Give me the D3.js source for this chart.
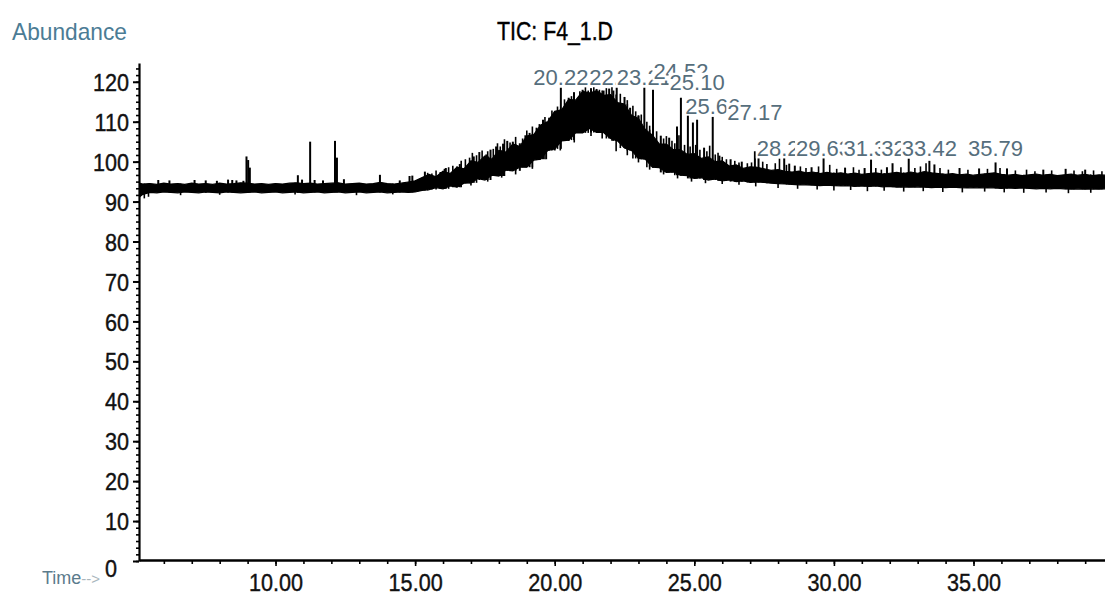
<!DOCTYPE html>
<html><head><meta charset="utf-8">
<script src="https://cdn.jsdelivr.net/npm/d3@7"></script>
<style>html,body{margin:0;padding:0;background:#fff;} svg{display:block;}</style>
</head><body><svg id="c" width="1105" height="595"></svg>
<script>
// ---- data ----
const bandTimes = [5.1,
 5.25,5.5,5.75,6,6.25,6.5,6.75,7,
 7.25,7.5,7.75,8,8.25,8.5,8.75,9,
 9.25,9.5,9.75,10,10.25,10.5,10.75,11,
 11.25,11.5,11.75,12,12.25,12.5,12.75,13,
 13.25,13.5,13.75,14,14.25,14.5,14.75,15,
 15.25,15.5,15.75,16,16.25,16.5,16.75,17,
 17.25,17.5,17.75,18,18.25,18.5,18.75,19,
 19.25,19.5,19.75,20,20.25,20.5,20.75,21,
 21.25,21.5,21.75,22,22.25,22.5,22.75,23,
 23.25,23.5,23.75,24,24.25,24.5,24.75,25,
 25.25,25.5,25.75,26,26.25,26.5,26.75,27,
 27.25,27.5,27.75,28,28.25,28.5,28.75,29,
 29.25,29.5,29.75,30,30.25,30.5,30.75,31,
 31.25,31.5,31.75,32,32.25,32.5,32.75,33,
 33.25,33.5,33.75,34,34.25,34.5,34.75,35,
 35.25,35.5,35.75,36,36.25,36.5,36.75,37,
 37.25,37.5,37.75,38,38.25,38.5,38.75,39,
 39.25,39.5,39.75];
const bandLow = [91.0,
 91.8,92.3,92.2,92.4,92.3,92.2,92.4,92.3,
 92.2,92.4,92.3,92.2,92.4,92.3,92.2,92.3,
 92.4,92.2,92.3,92.4,92.2,92.3,92.4,92.2,
 92.3,92.4,92.2,92.3,92.4,92.2,92.3,92.4,
 92.2,92.3,92.4,92.2,92.3,92.4,92.3,92.4,
 92.8,93.0,93.5,93.2,93.9,93.6,94.6,94.7,
 95.8,95.4,96.6,96.4,97.9,97.7,98.6,98.6,
 100.4,100.6,102.8,103.2,105.2,105.4,107.2,107.2,
 108.3,107.3,107.3,105.8,105.2,103.4,102.8,100.8,
 100.6,98.6,98.5,97.3,97.4,96.6,96.5,95.8,
 96.0,95.4,95.7,95.2,95.4,95.0,95.2,94.8,
 94.9,94.8,94.6,94.5,94.4,94.3,94.2,94.2,
 94.1,94.0,94.1,94.0,93.9,94.0,93.8,93.9,
 93.8,93.9,93.7,93.8,93.6,93.7,93.6,93.7,
 93.6,93.5,93.6,93.5,93.6,93.5,93.4,93.5,
 93.4,93.5,93.4,93.3,93.4,93.3,93.4,93.3,
 93.2,93.3,93.2,93.3,93.2,93.1,93.2,93.1,
 93.2,93.1,93.2];
const bandHigh = [94.6,
 94.4,94.5,94.3,94.6,94.4,94.5,94.3,94.6,
 94.4,94.5,94.3,94.6,94.4,94.5,94.7,94.6,
 94.4,94.5,94.3,94.5,94.4,94.6,94.7,94.5,
 94.6,94.4,94.5,94.6,94.7,94.4,94.5,94.6,
 94.4,94.5,94.8,94.5,94.4,94.6,94.9,95.2,
 96.0,96.8,96.2,97.6,97.0,98.6,98.2,100.2,
 99.8,101.4,100.6,102.8,102.4,104.4,103.8,106.4,
 106.8,109.2,110.0,112.6,113.0,115.6,115.4,117.6,
 117.2,117.8,116.6,116.8,114.8,114.4,111.6,110.8,
 108.0,106.6,104.4,104.4,103.0,103.0,101.8,102.0,
 100.8,101.2,100.0,100.2,98.9,99.2,98.3,98.7,
 98.6,98.2,97.8,98.0,97.6,97.4,97.6,97.2,
 97.4,97.0,97.3,97.0,97.2,96.9,97.1,96.8,
 97.0,97.2,96.9,97.1,97.3,97.0,97.4,97.1,
 97.5,97.2,97.0,96.8,97.0,96.7,96.9,96.6,
 96.8,97.0,97.2,96.8,96.6,96.8,96.5,96.7,
 96.9,96.6,96.8,96.5,96.7,96.9,96.6,96.8,
 96.5,96.7,96.6];
// tall spikes (retention time, apex abundance)
const spikeTimes = [5.8,6.2,7.1,7.5,7.9,8.3,8.45,8.6,8.85,8.96,9.02,9.08,
 10.8,10.95,11.24,11.4,11.7,12.13,12.2,12.45,13.74,14.45,14.8,14.9,15.35,
 16.1,16.6,17.1,17.3,17.55,17.7,17.9,18.15,18.3,18.5,18.75,18.95,19.1,19.35,19.58,19.8,20.0,
 20.22,20.5,20.69,20.8,21.0,21.3,21.5,21.75,21.95,22.1,22.22,22.5,22.7,23.0,23.21,23.52,
 23.8,24.1,24.38,24.52,24.77,24.95,25.10,25.35,25.66,25.9,26.3,26.7,27.17,27.3,
 28.22,28.4,28.6,29.2,29.63,30.4,31.1,31.33,31.9,32.1,32.68,33.42,33.6,34.5,35.2,35.79,36.2,37.5,38.3,39.0];
const spikeHeights = [95.4,95.3,95.4,95.3,95.2,95.5,95.4,95.3,95.2,101.3,100.4,98.5,
 96.6,95.5,105.0,95.4,95.3,105.2,101.0,95.6,96.7,95.3,96.4,96.5,97.5,
 98.4,99.4,101.3,102.4,101.8,103.0,103.8,104.5,105.2,105.0,104.6,106.6,107.2,108.5,110.5,111.0,112.2,
 118.5,116.0,117.4,114.8,118.0,118.4,118.2,117.8,118.3,117.8,118.5,116.2,113.5,111.5,118.5,118.0,
 106.5,106.0,108.8,116.0,112.3,109.8,110.5,103.5,111.2,101.5,100.6,100.0,102.6,101.5,
 101.2,99.5,99.0,98.6,101.3,98.5,98.4,100.5,98.6,99.6,101.0,100.2,99.3,98.4,98.3,99.8,98.3,98.0,98.2,98.0];
// small noise spikes on top of the band
const noiseTimes = [15.45,15.6,15.75,15.9,16.05,16.2,16.35,16.5,16.65,16.8,16.95,17.05,17.2,17.4,17.6,17.8,17.95,
 18.05,18.2,18.4,18.6,18.85,19.0,19.2,19.45,19.65,19.9,20.1,20.35,20.6,20.9,21.1,21.2,21.4,21.6,21.85,
 22.05,22.35,22.6,22.8,22.9,23.1,23.3,23.4,23.65,23.9,24.0,24.2,24.3,24.45,24.65,24.85,25.05,25.2,25.45,
 25.55,25.75,25.85,26.0,26.15,26.45,26.6,26.9,27.05,27.45,27.6,27.9,28.05,28.3,28.8,29.0,29.45,29.85,
 30.1,30.7,30.9,31.5,31.7,32.4,32.9,33.1,33.3,33.8,34.1,34.8,35.5,35.95,36.5,36.9,37.2,37.8,38.6,38.9,39.3,39.6];
const noiseHeights = [97.2,97.0,97.8,97.4,98.2,98.6,99.0,98.8,100.2,100.6,101.0,102.2,101.6,102.8,102.6,103.2,104.6,
 103.8,105.6,104.8,106.2,105.8,107.8,108.8,109.4,111.2,112.8,113.8,115.6,116.4,117.6,118.6,117.8,118.6,118.0,118.4,
 118.6,117.0,115.4,114.0,112.6,111.8,110.0,109.0,107.6,105.8,106.4,105.2,104.6,106.6,104.2,103.8,104.2,103.0,102.6,
 104.0,101.8,102.2,101.2,100.6,100.2,99.8,99.6,99.8,100.0,99.4,99.6,100.8,99.2,98.8,98.4,98.8,99.2,
 98.2,98.6,98.0,98.4,98.0,98.6,98.4,98.8,99.6,98.4,98.0,98.0,98.2,98.4,97.8,98.0,97.6,97.8,97.8,97.6,97.8,97.6];
// downward noise spikes below the band
const dipTimes = [5.3,5.45,6.6,8.0,10.7,12.9,14.2,17.0,17.6,18.1,18.6,19.2,19.7,20.2,20.7,21.3,21.7,22.2,22.6,
 23.0,23.4,23.9,24.4,24.9,25.4,26.0,26.6,27.2,28.0,28.7,29.4,30.0,30.6,31.2,31.8,32.5,33.2,33.9,34.6,35.4,
 36.1,36.8,37.6,38.4,39.2];
const dipLows = [90.8,91.2,91.6,91.7,91.8,91.6,91.8,94.0,95.0,96.0,96.8,98.2,100.6,102.8,104.8,106.4,105.8,102.6,101.6,
 99.8,98.0,96.8,95.8,95.0,94.6,94.4,94.2,93.8,93.4,93.2,93.0,92.8,92.9,92.6,92.7,92.5,92.6,92.4,92.3,92.5,
 92.3,92.2,92.3,92.1,92.2];
const peakTimes = [20.22,22.22,23.21,24.52,25.10,25.66,27.17,28.22,29.63,31.33,32.68,33.42,35.79];
const peakLabels = ["20.22","22.22","23.21","24.52","25.10","25.66","27.17","28.22","29.63","31.33","32.68","33.42","35.79"];
const labelLevels = [119.3,119.3,119.3,120.8,118.0,112.0,110.5,101.3,101.3,101.3,101.3,101.3,101.3];
const yTickValues = [0,10,20,30,40,50,60,70,80,90,100,110,120];
const xTickValues = [10,15,20,25,30,35];
const chartTitle = "TIC: F4_1.D";
const yTitle = "Abundance";
const xTitle = "Time";

// ---- drawing ----
const W = 1105, H = 595;
const FONT = "'Liberation Sans', Arial, sans-serif";
const x = d3.scaleLinear().domain([5.11, 39.71]).range([139, 1105]);
const y = d3.scaleLinear().domain([0, 124.7]).range([561, 63]);
const svg = d3.select("#c").attr("font-family", FONT);

function squeeze(sel, f) {
  sel.each(function () {
    const w = this.getComputedTextLength();
    if (w > 0) { this.setAttribute("textLength", w * f); this.setAttribute("lengthAdjust", "spacingAndGlyphs"); }
  });
}

svg.append("defs").append("clipPath").attr("id", "plot")
  .append("rect").attr("x", 140).attr("y", 0).attr("width", W - 140).attr("height", 560);

const band = bandTimes.map((t, i) => ({ t, lo: bandLow[i], hi: bandHigh[i] }));
const g = svg.append("g").attr("clip-path", "url(#plot)");
const area = d3.area().x(d => x(d.t)).y0(d => y(d.lo)).y1(d => y(d.hi));
g.append("path").datum(band).attr("d", area)
  .attr("fill", "#000").attr("stroke", "#000").attr("stroke-width", 1.2);

const bis = d3.bisector(d => d.t).left;
function nearIdx(t) { return Math.max(1, Math.min(band.length - 1, bis(band, t))); }
function loAt(t) { const i = nearIdx(t); return Math.min(band[i - 1].lo, band[i].lo); }
function hiAt(t) { const i = nearIdx(t); return Math.max(band[i - 1].hi, band[i].hi); }

const spikes = spikeTimes.map((t, i) => ({ t, h: spikeHeights[i] }));
g.selectAll("line.spike").data(spikes).join("line").attr("class", "spike")
  .attr("x1", d => x(d.t)).attr("x2", d => x(d.t))
  .attr("y1", d => y(d.h)).attr("y2", d => y(loAt(d.t)))
  .attr("stroke", "#000").attr("stroke-width", 2);
const noise = noiseTimes.map((t, i) => ({ t, h: noiseHeights[i] }));
g.selectAll("line.noise").data(noise).join("line").attr("class", "noise")
  .attr("x1", d => x(d.t)).attr("x2", d => x(d.t))
  .attr("y1", d => y(d.h)).attr("y2", d => y(loAt(d.t)))
  .attr("stroke", "#000").attr("stroke-width", 1.6);
const dips = dipTimes.map((t, i) => ({ t, l: dipLows[i] }));
g.selectAll("line.dip").data(dips).join("line").attr("class", "dip")
  .attr("x1", d => x(d.t)).attr("x2", d => x(d.t))
  .attr("y1", d => y(d.l)).attr("y2", d => y(hiAt(d.t)))
  .attr("stroke", "#000").attr("stroke-width", 1.6);

// y axis
const yMinor = d3.range(0, 124.7, 10 / 6);
svg.append("g").attr("transform", "translate(139,0)")
  .call(d3.axisLeft(y).tickValues(yMinor).tickSize(3).tickSizeOuter(0).tickFormat(""))
  .call(s => s.select(".domain").remove())
  .call(s => s.selectAll("line").attr("stroke", "#000").attr("stroke-width", 1.6));
const yAx = svg.append("g").attr("transform", "translate(139,0)")
  .call(d3.axisLeft(y).tickValues(yTickValues).tickSize(6).tickSizeOuter(0)
    .tickFormat(d => d === yTickValues[0] ? "" : d3.format("d")(d)));
yAx.select(".domain").attr("stroke", "#000").attr("stroke-width", 2.2);
yAx.selectAll("line").attr("stroke", "#000").attr("stroke-width", 2);
yAx.selectAll("text").attr("font-size", 24).attr("font-family", FONT).attr("fill", "#111")
  .attr("stroke", "#111").attr("stroke-width", 0.4)
  .attr("x", -10).attr("dy", "0.36em");
squeeze(yAx.selectAll("text"), 0.9);

// x axis
const xMinor = d3.range(6, 40, 1);
svg.append("g").attr("transform", "translate(0,560)")
  .call(d3.axisBottom(x).tickValues(xMinor).tickSize(4).tickSizeOuter(0).tickFormat(""))
  .call(s => s.select(".domain").remove())
  .call(s => s.selectAll("line").attr("stroke", "#000").attr("stroke-width", 1.6));
const xAx = svg.append("g").attr("transform", "translate(0,560)")
  .call(d3.axisBottom(x).tickValues(xTickValues).tickSize(6).tickSizeOuter(0).tickFormat(d3.format(".2f")));
xAx.select(".domain").attr("stroke", "#000").attr("stroke-width", 2.4);
xAx.selectAll("line").attr("stroke", "#000").attr("stroke-width", 1.6);
xAx.selectAll("text").attr("font-size", 24).attr("font-family", FONT).attr("fill", "#111")
  .attr("stroke", "#111").attr("stroke-width", 0.4)
  .attr("y", 14).attr("dy", "0.71em");
squeeze(xAx.selectAll("text"), 0.9);

// zero label and Time label
const zero = svg.append("text").attr("x", 117).attr("y", 577).attr("text-anchor", "end")
  .attr("font-size", 24).attr("fill", "#111").attr("stroke", "#111").attr("stroke-width", 0.4)
  .text(d3.format("d")(yTickValues[0]));
squeeze(zero, 0.9);
const tl = svg.append("text").attr("x", 42).attr("y", 584).attr("font-size", 18).attr("fill", "#5b7b8c");
tl.append("tspan").text(xTitle);
tl.append("tspan").attr("fill", "#a9b6bd").attr("font-size", 15).text("-->");

// titles
const yt = svg.append("text").attr("x", 12).attr("y", 40).attr("font-size", 24)
  .attr("fill", "#4b7c95").text(yTitle);
yt.attr("textLength", 115).attr("lengthAdjust", "spacingAndGlyphs");
svg.append("text").attr("x", 555).attr("y", 40).attr("text-anchor", "middle")
  .attr("font-size", 25).attr("fill", "#000").attr("stroke", "#000").attr("stroke-width", 0.4)
  .text(chartTitle)
  .attr("textLength", 116).attr("lengthAdjust", "spacingAndGlyphs");

// peak labels (later labels overwrite earlier ones, as in the original)
peakTimes.forEach((t, i) => {
  const lg = svg.append("g");
  const r = lg.append("rect").attr("fill", "#fff");
  const tx = lg.append("text").attr("x", x(t)).attr("y", y(labelLevels[i]))
    .attr("text-anchor", "middle").attr("font-size", 22).attr("fill", "#566e7c").text(peakLabels[i]);
  const b = tx.node().getBBox();
  r.attr("x", b.x - 1).attr("y", y(labelLevels[i]) - 17).attr("width", b.width + 2).attr("height", 19);
});
</script>
</body></html>
